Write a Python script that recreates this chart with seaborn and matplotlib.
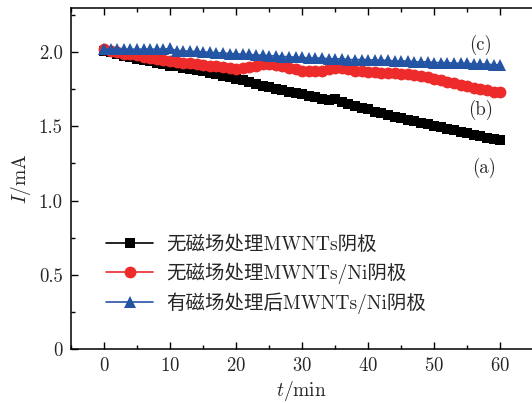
import numpy as np
import pandas as pd
import matplotlib
matplotlib.use("Agg")
import matplotlib.pyplot as plt
import seaborn as sns
from matplotlib.ticker import MultipleLocator, FuncFormatter

# ── данные ──────────────────────────────────────────────────────
t_min = list(range(0, 61))

i_a = [2.01, 2.00, 1.99, 1.975, 1.965, 1.955, 1.95, 1.94, 1.93, 1.92,
       1.91, 1.905, 1.895, 1.89, 1.88, 1.87, 1.86, 1.85, 1.84, 1.83,
       1.82, 1.81, 1.80, 1.785, 1.775, 1.765, 1.755, 1.745, 1.735, 1.725,
       1.715, 1.705, 1.695, 1.685, 1.675, 1.685, 1.665, 1.65, 1.64, 1.625,
       1.615, 1.60, 1.59, 1.58, 1.565, 1.555, 1.545, 1.535, 1.525, 1.515,
       1.505, 1.495, 1.485, 1.475, 1.465, 1.455, 1.445, 1.435, 1.425, 1.415,
       1.41]

i_b = [2.02, 2.01, 2.00, 1.99, 1.985, 1.98, 1.97, 1.96, 1.955, 1.95,
       1.94, 1.935, 1.93, 1.925, 1.92, 1.915, 1.91, 1.905, 1.90, 1.895,
       1.89, 1.895, 1.90, 1.91, 1.92, 1.92, 1.915, 1.905, 1.895, 1.885,
       1.875, 1.87, 1.87, 1.875, 1.885, 1.895, 1.895, 1.885, 1.875, 1.87,
       1.865, 1.865, 1.86, 1.86, 1.86, 1.855, 1.85, 1.845, 1.84, 1.83,
       1.82, 1.81, 1.80, 1.79, 1.78, 1.77, 1.76, 1.75, 1.745, 1.735,
       1.73]

i_c = [2.02, 2.02, 2.02, 2.02, 2.02, 2.02, 2.02, 2.02, 2.02, 2.02,
       2.025, 2.01, 2.01, 2.005, 2.005, 2.0, 2.0, 1.995, 1.995, 1.99,
       1.99, 1.985, 1.985, 1.98, 1.98, 1.975, 1.975, 1.97, 1.97, 1.965,
       1.965, 1.96, 1.96, 1.96, 1.955, 1.955, 1.955, 1.95, 1.95, 1.95,
       1.95, 1.945, 1.945, 1.945, 1.94, 1.94, 1.94, 1.935, 1.935, 1.935,
       1.93, 1.93, 1.93, 1.925, 1.925, 1.925, 1.92, 1.92, 1.92, 1.915,
       1.915]

labels = ["无磁场处理MWNTs阴极",
          "无磁场处理MWNTs/Ni阴极",
          "有磁场处理后MWNTs/Ni阴极"]
colors = ["#000000", "#ee2b2b", "#2454a4"]
markers = ["s", "o", "^"]
msizes = [7, 8.5, 9]

# ── стиль ──────────────────────────────────────────────────────
sns.set_theme(style="ticks")
plt.rcParams["font.family"] = ["cmr10", "Noto Sans CJK SC", "DejaVu Sans"]
plt.rcParams["mathtext.fontset"] = "cm"
plt.rcParams["axes.unicode_minus"] = False
plt.rcParams["axes.formatter.use_mathtext"] = True

df = pd.DataFrame({"t": t_min * 3,
                   "I": i_a + i_b + i_c,
                   "series": sum([[lb] * len(t_min) for lb in labels], [])})

fig = plt.figure(figsize=(5.32, 4.03), dpi=100)
ax = fig.add_axes([0.1335, 0.134, 0.8665, 0.847])

for lb, c, m, ms in zip(labels, colors, markers, msizes):
    sub = df[df["series"] == lb]
    sns.lineplot(data=sub, x="t", y="I", ax=ax, color=c, marker=m,
                 markersize=ms, markeredgewidth=0, linewidth=1.2,
                 label=lb, estimator=None, sort=False)

ax.set_xlim(-5, 64.8)
ax.set_ylim(0, 2.3)
ax.xaxis.set_major_locator(MultipleLocator(10))
ax.xaxis.set_minor_locator(MultipleLocator(5))
ax.yaxis.set_major_locator(MultipleLocator(0.5))
ax.yaxis.set_minor_locator(MultipleLocator(0.25))
ax.yaxis.set_major_formatter(FuncFormatter(lambda v, p: "0" if v == 0 else f"{v:.1f}"))

ax.tick_params(which="both", direction="in", top=True, right=False,
               labelsize=13.5, width=1, color="black")
ax.tick_params(which="major", length=5, pad=6)
ax.tick_params(which="minor", length=3)
for s in ["left", "bottom", "top"]:
    ax.spines[s].set_color("black")
    ax.spines[s].set_linewidth(1.1)
ax.spines["right"].set_visible(False)

ax.set_xlabel("$t$/min", fontsize=14, labelpad=3)
ax.set_ylabel("$I$/mA", fontsize=14, labelpad=4)

ax.text(57.0, 2.05, "(c)", fontsize=13.5, ha="center", va="center")
ax.text(57.0, 1.61, "(b)", fontsize=13.5, ha="center", va="center")
ax.text(57.5, 1.22, "(a)", fontsize=13.5, ha="center", va="center")

ax.legend(loc="upper left", bbox_to_anchor=(0.06, 0.355), frameon=False,
          fontsize=14, handlelength=2.4, handletextpad=0.65,
          labelspacing=0.45, borderaxespad=0)

fig.savefig("out.png", dpi=100)
